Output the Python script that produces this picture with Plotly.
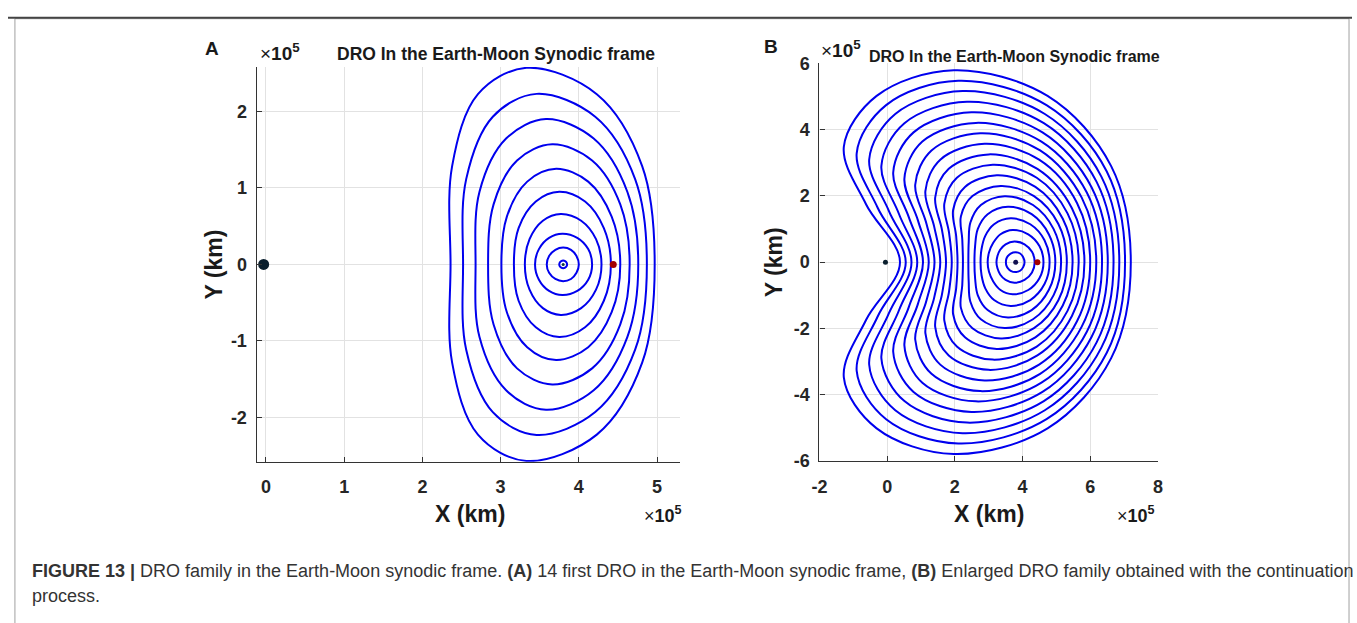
import plotly.graph_objects as go

# ---------------- data (units: 1e5 km) ----------------
# Panel A: first DROs (distinct visible loops), outer -> inner.
# Max height H, x of the top, and the x positions of
# each loop at y = 0, 0.5 H and 0.866 H on the left and right sides.
A_H    = [2.57, 2.23, 1.90, 1.57, 1.25, 0.95, 0.66, 0.40, 0.22, 0.05]
A_XT   = [3.33, 3.46, 3.58, 3.66, 3.71, 3.75, 3.77, 3.79, 3.80, 3.80]
A_XL   = [2.36, 2.52, 2.68, 2.84, 3.01, 3.17, 3.31, 3.44, 3.59, 3.75]
A_XL5  = [2.38, 2.56, 2.73, 2.91, 3.08, 3.23, 3.37, 3.49, 3.62, 3.757]
A_XL87 = [2.71, 2.90, 3.07, 3.21, 3.34, 3.45, 3.54, 3.62, 3.70, 3.775]
A_XR87 = [4.23, 4.21, 4.19, 4.17, 4.12, 4.08, 4.03, 3.98, 3.90, 3.825]
A_XR5  = [4.81, 4.72, 4.62, 4.53, 4.42, 4.32, 4.22, 4.12, 3.97, 3.843]
A_XR   = [4.97, 4.87, 4.76, 4.65, 4.53, 4.41, 4.29, 4.17, 4.00, 3.85]

# Panel B: enlarged DRO family, outer -> inner.
# Left side read at y = 0, 0.3 H, 0.6 H, 0.866 H; top; right side at
# y = 0.866 H, 0.5 H, 0.
B_H    = [5.79, 5.47, 5.16, 4.84, 4.52, 4.20, 3.89, 3.57, 3.25, 2.94,
          2.62, 2.30, 1.99, 1.67, 1.32, 0.97, 0.62, 0.30]
B_XL   = [0.38, 0.55, 0.72, 0.89, 1.06, 1.23, 1.40, 1.57, 1.74, 1.91,
          2.08, 2.24, 2.40, 2.58, 2.76, 2.97, 3.23, 3.51]
B_XL3  = [-0.62, -0.28, 0.05, 0.35, 0.64, 0.91, 1.16, 1.39, 1.62, 1.83,
          2.04, 2.22, 2.41, 2.60, 2.79, 3.01, 3.26, 3.52]
B_XL6  = [-1.28, -0.90, -0.53, -0.17, 0.18, 0.51, 0.83, 1.13, 1.42, 1.69,
          1.95, 2.18, 2.46, 2.68, 2.90, 3.135, 3.34, 3.565]
B_XL87 = [-0.31, -0.03, 0.24, 0.51, 0.78, 1.04, 1.31, 1.57, 1.82, 2.06,
          2.30, 2.52, 2.77, 2.97, 3.16, 3.35, 3.50, 3.65]
B_XT   = [1.97, 2.10, 2.23, 2.36, 2.49, 2.62, 2.75, 2.88, 3.00, 3.12,
          3.24, 3.36, 3.47, 3.57, 3.65, 3.71, 3.76, 3.79]
B_XR87 = [4.74, 4.71, 4.66, 4.63, 4.59, 4.56, 4.52, 4.49, 4.44, 4.42,
          4.38, 4.34, 4.31, 4.27, 4.23, 4.17, 4.06, 3.93]
B_XR5  = [6.62, 6.49, 6.33, 6.19, 6.04, 5.90, 5.75, 5.61, 5.46, 5.33,
          5.19, 5.06, 4.92, 4.78, 4.65, 4.50, 4.28, 4.02]
B_XR   = [7.20, 7.03, 6.86, 6.69, 6.52, 6.35, 6.18, 6.00, 5.83, 5.66,
          5.48, 5.31, 5.14, 4.97, 4.80, 4.62, 4.36, 4.06]

# bodies / points (x, y)
EARTH_A = (-0.03, 0.0)
MOON_A = (3.80, 0.0)
L2_A = (4.44, 0.0)
EARTH_B = (-0.05, 0.0)
MOON_B = (3.80, 0.0)
L2_B = (4.44, 0.0)

ORBIT_COLOR = "#0000ee"
FONT = "Liberation Sans, Arial, sans-serif"
W, H = 1357, 623

fig = go.Figure()


def orbit_trace(xs, ys, xa, ya):
    fig.add_trace(go.Scatter(
        x=xs, y=ys, mode="lines", xaxis=xa, yaxis=ya,
        line=dict(color=ORBIT_COLOR, width=2, shape="spline", smoothing=1.0, simplify=False),
        hoverinfo="skip", showlegend=False))


for h, xt, xl, xl5, xl87, xr87, xr5, xr in zip(A_H, A_XT, A_XL, A_XL5, A_XL87,
                                               A_XR87, A_XR5, A_XR):
    xs = [xl, xl5, xl87, xt, xr87, xr5, xr, xr5, xr87, xt, xl87, xl5, xl]
    ys = [0, 0.5 * h, 0.866 * h, h, 0.866 * h, 0.5 * h, 0,
          -0.5 * h, -0.866 * h, -h, -0.866 * h, -0.5 * h, 0]
    orbit_trace(xs, ys, "x", "y")

for h, xl, xl3, xl6, xl87, xt, xr87, xr5, xr in zip(B_H, B_XL, B_XL3, B_XL6, B_XL87,
                                                    B_XT, B_XR87, B_XR5, B_XR):
    xs = [xl, xl3, xl6, xl87, xt, xr87, xr5, xr, xr5, xr87, xt, xl87, xl6, xl3, xl]
    ys = [0, 0.3 * h, 0.6 * h, 0.866 * h, h, 0.866 * h, 0.5 * h, 0,
          -0.5 * h, -0.866 * h, -h, -0.866 * h, -0.6 * h, -0.3 * h, 0]
    orbit_trace(xs, ys, "x2", "y2")


def dot(p, xa, ya, color, size):
    fig.add_trace(go.Scatter(x=[p[0]], y=[p[1]], mode="markers", xaxis=xa, yaxis=ya,
                             marker=dict(color=color, size=size, line=dict(width=0)),
                             hoverinfo="skip", showlegend=False))


dot(EARTH_A, "x", "y", "#0a1f2e", 11)
dot(MOON_A, "x", "y", "#0b3a40", 3)
dot(L2_A, "x", "y", "#a30000", 7)
dot(EARTH_B, "x2", "y2", "#0a1f2e", 5)
dot(MOON_B, "x2", "y2", "#101050", 5)
dot(L2_B, "x2", "y2", "#a30000", 6)

axis_common = dict(
    showgrid=True, gridcolor="#e2e2e2", gridwidth=1,
    zeroline=False, showline=True, linecolor="#333333", linewidth=1.2,
    ticks="inside", ticklen=5, tickcolor="#333333",
    tickfont=dict(family=FONT, size=18, color="#262626", weight="bold"),
    mirror=False,
)

fig.update_layout(
    width=W, height=H, margin=dict(l=0, r=0, t=0, b=0),
    paper_bgcolor="white", plot_bgcolor="white", showlegend=False,
    xaxis=dict(domain=[251 / W, 679 / W], range=[-0.12, 5.30],
               tickvals=[0, 1, 2, 3, 4, 5], ticktext=["0", "1", "2", "3", "4", "5"],
               anchor="y", ticklabelstandoff=9, **axis_common),
    yaxis=dict(domain=[1 - 466.7 / H, 1 - 59 / H], range=[-2.58, 2.58],
               tickvals=[-2, -1, 0, 1, 2], ticktext=["-2", "-1", "0", "1", "2"],
               anchor="x", ticklabelstandoff=5, **axis_common),
    xaxis2=dict(domain=[819.3 / W, 1161 / W], range=[-2, 8],
                tickvals=[-2, 0, 2, 4, 6, 8], ticktext=["-2", "0", "2", "4", "6", "8"],
                anchor="y2", ticklabelstandoff=9, **axis_common),
    yaxis2=dict(domain=[1 - 466 / H, 1 - 55 / H], range=[-6, 6],
                tickvals=[-6, -4, -2, 0, 2, 4, 6], ticktext=["-6", "-4", "-2", "0", "2", "4", "6"],
                anchor="x2", ticklabelstandoff=5, **axis_common),
)


def ann(text, x, y, size, bold=False, xanchor="center", yanchor="middle", angle=0, color="#1a1a1a",
        family=FONT):
    fig.add_annotation(text=text, x=x / W, y=1 - y / H, xref="paper", yref="paper",
                       showarrow=False, xanchor=xanchor, yanchor=yanchor, textangle=angle,
                       font=dict(family=family, size=size, color=color,
                                 weight="bold" if bold else "normal"))


# panel letters and titles
ann("A", 197, 40, 19, bold=True, xanchor="left")
ann("B", 761, 38, 19, bold=True, xanchor="left")
ann("DRO In the Earth-Moon Synodic frame", 493, 45, 17.5, bold=True)
ann("DRO In the Earth-Moon Synodic frame", 1016, 48, 16, bold=True)
# exponent labels
EXP = "×<b>10</b><sup><b>5</b></sup>"
ann(EXP, 252, 43, 19, xanchor="left")
ann(EXP, 819, 40, 19, xanchor="left")
ann(EXP, 640, 521, 18, xanchor="left")
ann(EXP, 1118, 521, 18, xanchor="left")
# axis titles
ann("X (km)", 466, 521, 23, bold=True)
ann("X (km)", 990, 521, 23, bold=True)
ann("Y (km)", 208, 263, 23, bold=True, angle=-90)
ann("Y (km)", 773, 261, 23, bold=True, angle=-90)

# caption
ann("<b>FIGURE 13 |</b> DRO family in the Earth-Moon synodic frame. <b>(A)</b> 14 first DRO in the "
    "Earth-Moon synodic frame, <b>(B)</b> Enlarged DRO family obtained with the continuation",
    22, 580, 18, xanchor="left", color="#333333")
ann("process.", 22, 605, 18, xanchor="left", color="#333333")

# frame
fig.add_shape(type="rect", xref="paper", yref="paper", x0=7 / W, x1=1354 / W, y0=-0.05, y1=1 - 9 / H,
              line=dict(color="#a0a0a0", width=1))
fig.add_shape(type="line", xref="paper", yref="paper", x0=0, x1=1, y0=1 - 8 / H, y1=1 - 8 / H,
              line=dict(color="#444444", width=2))

fig.write_html("out.html", post_script="document.body.style.margin='0';"
                                       "document.body.style.overflow='hidden';")
